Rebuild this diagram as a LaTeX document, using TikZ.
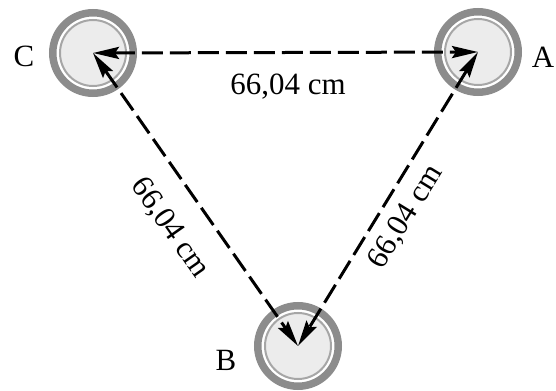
\documentclass[tikz,border=0pt]{standalone}
\usepackage{fontspec}
\setmainfont{Liberation Serif}
\usepackage{tikz}
\usetikzlibrary{arrows.meta}
\usepackage{xcolor}

\begin{document}
\begin{tikzpicture}[
    x=0.25mm, y=-0.25mm,
    station/.style={circle, draw=gray!90, line width=1.875mm, fill=white,
               minimum size=20.125mm, inner sep=0pt,
               path picture={\draw[gray!70, line width=0.5mm, fill=gray!15]
                   (path picture bounding box.center) circle (8.25mm);}},
    dist/.style={dash pattern=on 5.25mm off 1.75mm, line width=0.75mm,
               {Stealth[length=6.5mm, width=3mm, inset=1mm]}-{Stealth[length=6.5mm, width=3mm, inset=1mm]}},
    lbl/.style={font=\fontsize{22}{26}\selectfont, inner sep=0pt}
]
\useasboundingbox (0,0) rectangle (556,391);

% the three stations
\node[station] (C) at (93,53) {};
\node[station] (A) at (478,52) {};
\node[station] (B) at (298,346) {};

% station names
\node[lbl, anchor=base] (labC) at (24,67) {C};
\node[lbl, anchor=base] (labA) at (543,68) {A};
\node[lbl, anchor=base] (labB) at (226,370) {B};

% distances (arrow tips at the centres)
\draw[dist] (C.center) -- (A.center);
\draw[dist] (C.center) -- (B.center);
\draw[dist] (A.center) -- (B.center);

% distance labels
\node[lbl, anchor=base] (dCA) at (288,95) {66,04 cm};
\node[lbl, rotate=-55] (dCB) at (170,228) {66,04 cm};
\node[lbl, rotate=58.5] (dAB) at (406,217) {66,04 cm};

\end{tikzpicture}
\end{document}
